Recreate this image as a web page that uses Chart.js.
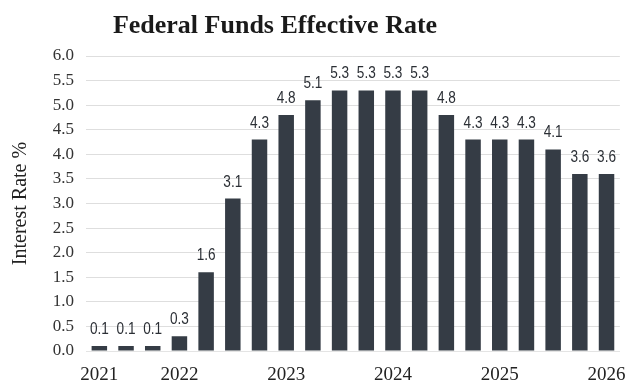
<!DOCTYPE html>
<html>
<head>
<meta charset="utf-8">
<script src="https://cdn.jsdelivr.net/npm/chart.js@4/dist/chart.umd.min.js"></script>
<style>
  html, body { margin: 0; padding: 0; background: #fff; }
  #wrap { width: 639px; height: 387px; }
</style>
</head>
<body>
<div id="wrap"><canvas id="rate-chart" width="639" height="387"></canvas></div>
<script>
// quarterly effective rate, 2021 Q1 .. 2025 Q4
const quarters = [
  '2021Q1', '2021Q2', '2021Q3', '2021Q4',
  '2022Q1', '2022Q2', '2022Q3', '2022Q4',
  '2023Q1', '2023Q2', '2023Q3', '2023Q4',
  '2024Q1', '2024Q2', '2024Q3', '2024Q4',
  '2025Q1', '2025Q2', '2025Q3', '2025Q4',
];
const rates = [
  0.1, 0.1, 0.1, 0.3,
  1.6, 3.1, 4.3, 4.8,
  5.1, 5.3, 5.3, 5.3,
  5.3, 4.8, 4.3, 4.3,
  4.3, 4.1, 3.6, 3.6,
];
// year labels shown under the axis (by bar index)
const yearTicks = { 0: '2021', 3: '2022', 7: '2023', 11: '2024', 15: '2025', 19: '2026' };
const yTicks = [0, 0.5, 1, 1.5, 2, 2.5, 3, 3.5, 4, 4.5, 5, 5.5, 6];

const serif = '"Liberation Serif", "Times New Roman", serif';
const chartTitle = 'Federal Funds Effective Rate';

// heading sits a bit left of centre, so it is drawn by hand
const heading = {
  id: 'heading',
  afterDraw(chart) {
    const { ctx } = chart;
    ctx.save();
    ctx.fillStyle = '#1a1a1a';
    ctx.font = 'bold 26px ' + serif;
    ctx.textAlign = 'center';
    ctx.textBaseline = 'alphabetic';
    ctx.fillText(chartTitle, 275, 33);
    ctx.restore();
  },
};

// small value labels above each bar (narrow sans)
const barValues = {
  id: 'barValues',
  afterDatasetsDraw(chart) {
    const { ctx } = chart;
    const meta = chart.getDatasetMeta(0);
    ctx.save();
    ctx.fillStyle = '#2b2f35';
    ctx.font = '16px "Liberation Sans", Arial, sans-serif';
    ctx.textAlign = 'center';
    ctx.textBaseline = 'alphabetic';
    meta.data.forEach((bar, i) => {
      ctx.save();
      ctx.translate(bar.x, bar.y - 12);
      ctx.scale(0.85, 1);
      ctx.fillText(rates[i].toFixed(1), 0, 0);
      ctx.restore();
    });
    ctx.restore();
  },
};

new Chart(document.getElementById('rate-chart'), {
  type: 'bar',
  data: {
    labels: quarters,
    datasets: [{
      label: 'Effective rate',
      data: rates,
      backgroundColor: '#353c45',
      barPercentage: 0.58,
      categoryPercentage: 1.0,
    }],
  },
  options: {
    responsive: false,
    animation: false,
    layout: { padding: { left: 5, right: 19, top: 56, bottom: 0 } },
    plugins: {
      legend: { display: false },
      tooltip: { enabled: false },
      title: { display: false },
    },
    scales: {
      x: {
        afterFit: (axis) => { axis.height = 36; },
        grid: { display: false, drawTicks: false },
        border: { color: '#e4e4e4' },
        ticks: {
          autoSkip: false,
          maxRotation: 0,
          color: '#222',
          font: { family: serif, size: 19 },
          padding: 13,
          callback: (v, i) => yearTicks[i] || '',
        },
      },
      y: {
        min: 0,
        max: 6,
        afterFit: (axis) => { axis.width = 81; },
        afterBuildTicks: (axis) => { axis.ticks = yTicks.map(v => ({ value: v })); },
        grid: { color: '#dedede', drawTicks: false },
        border: { display: false },
        ticks: {
          color: '#333',
          font: { family: serif, size: 17 },
          padding: 12,
          callback: (v) => Number(v).toFixed(1),
        },
        title: {
          display: true,
          text: 'Interest Rate %',
          color: '#222',
          font: { family: serif, size: 20 },
          padding: { top: 4, bottom: 0 },
        },
      },
    },
  },
  plugins: [barValues, heading],
});
</script>
</body>
</html>
